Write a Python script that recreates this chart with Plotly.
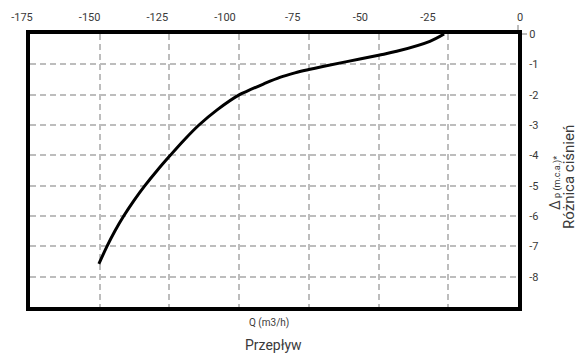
import plotly.graph_objects as go

# Flow (m3/h) vs. pressure difference (m.c.a.) characteristic
flow_q = [-26.5, -31.6, -43.5, -50.0, -61.4, -70.0, -75.0, -80.0, -85.4, -91.3,
          -97.3, -99.7, -107.9, -114.4, -119.8, -124.7, -129.4, -133.8,
          -137.8, -141.4, -144.6, -147.4, -150.3]
delta_p = [0.0, -0.24, -0.57, -0.70, -0.91, -1.07, -1.17, -1.28, -1.43, -1.65,
           -1.89, -1.99, -2.50, -3.00, -3.50, -4.00, -4.50, -5.00,
           -5.50, -6.00, -6.50, -7.00, -7.58]

q_ticks = [-175, -150, -125, -100, -75, -50, -25, 0]
q_labels = [str(v) for v in q_ticks]
p_ticks = [0, -1, -2, -3, -4, -5, -6, -7, -8]
p_labels = [str(v) for v in p_ticks]

TEXT = "#3a3a3a"
GRID = "#bdbdbd"
FONT = "Roboto"

fig = go.Figure()
fig.add_trace(go.Scatter(
    x=flow_q, y=delta_p, mode="lines",
    line=dict(color="black", width=3, shape="spline", smoothing=1.0),
    showlegend=False, hoverinfo="skip",
))
# empty carrier trace for the top label strip (its own hidden y axis)
fig.add_trace(go.Scatter(x=[], y=[], xaxis="x2", yaxis="y2",
                         showlegend=False, hoverinfo="skip"))

# the last top label sits flush with the right frame edge
top_label_vals = q_ticks[:-1] + [9]

zero_tick = dict(tickvals=[0], ticks="outside", ticklen=5, tickwidth=2,
                 tickcolor=GRID, showgrid=False)

fig.update_layout(
    width=588, height=354,
    margin=dict(l=10, r=60, t=34, b=47),
    paper_bgcolor="white", plot_bgcolor="rgba(0,0,0,0)",
    font=dict(family=FONT, color=TEXT),
    xaxis=dict(
        domain=[20 / 518, 508 / 518], side="top",
        range=[-175, 0], tickvals=q_ticks, showticklabels=False,
        showgrid=True, gridcolor=GRID, gridwidth=2, griddash="6px,4px",
        zeroline=False, showline=True, linecolor="black", linewidth=4,
        mirror=True, ticks="", minor=zero_tick, automargin=False,
    ),
    xaxis2=dict(
        domain=[0, 1], anchor="y2", side="top",
        range=[-179.43, 11.94], tickvals=top_label_vals, ticktext=q_labels,
        showgrid=False, zeroline=False, showline=False, ticks="",
        ticklabelstandoff=10,
        tickfont=dict(family=FONT, size=11, color=TEXT), automargin=False,
    ),
    yaxis=dict(
        range=[-9, 0], tickvals=p_ticks, ticktext=p_labels, side="right",
        showgrid=True, gridcolor=GRID, gridwidth=2, griddash="6px,4px",
        zeroline=False, showline=True, linecolor="black", linewidth=4,
        mirror=True, ticks="", minor=zero_tick, ticklabelstandoff=5,
        tickfont=dict(family=FONT, size=11, color=TEXT), automargin=False,
    ),
    yaxis2=dict(
        overlaying="y", anchor="x2", range=[-9, 0], visible=False,
        showgrid=False, zeroline=False,
    ),
    annotations=[
        dict(text="Q (m3/h)", xref="paper", yref="paper", x=0.5, y=-0.058,
             xanchor="center", yanchor="middle", showarrow=False,
             font=dict(family=FONT, size=10, color=TEXT)),
        dict(text="Przepływ", xref="paper", yref="paper", x=0.508, y=-0.141,
             xanchor="center", yanchor="middle", showarrow=False,
             font=dict(family=FONT, size=14, color=TEXT)),
        dict(text="<span style='font-size:14px'>Δ</span> p (m.c.a.)*",
             xref="paper", yref="paper", x=1.052, y=0.454, textangle=-90,
             xanchor="center", yanchor="middle", showarrow=False,
             font=dict(family=FONT, size=9, color=TEXT)),
        dict(text="Różnica ciśnień", xref="paper", yref="paper", x=1.079,
             y=0.476, textangle=-90, xanchor="center", yanchor="middle",
             showarrow=False, font=dict(family=FONT, size=15, color=TEXT)),
    ],
)

fig.write_html("out.html")
